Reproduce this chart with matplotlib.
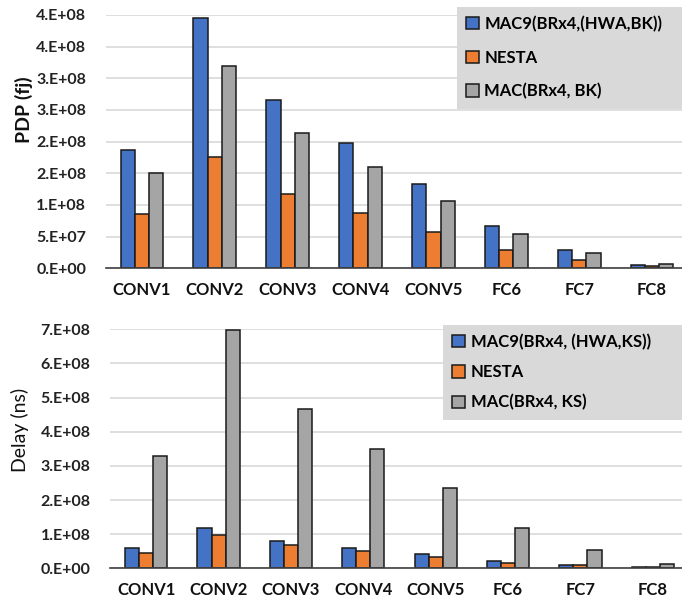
import matplotlib
matplotlib.use("Agg")
import matplotlib.pyplot as plt
import numpy as np

# layers on the x axis
layers = ["CONV1", "CONV2", "CONV3", "CONV4", "CONV5", "FC6", "FC7", "FC8"]

# PDP (fj)
pdp_mac9 = [1.87e8, 3.95e8, 2.65e8, 1.98e8, 1.33e8, 6.7e7, 2.9e7, 5.8e6]
pdp_nesta = [8.5e7, 1.76e8, 1.17e8, 8.8e7, 5.8e7, 2.9e7, 1.3e7, 4.2e6]
pdp_mac = [1.51e8, 3.2e8, 2.14e8, 1.6e8, 1.06e8, 5.4e7, 2.4e7, 6.3e6]
pdp_ticks = [0, 5e7, 1e8, 1.5e8, 2e8, 2.5e8, 3e8, 3.5e8, 4e8]
pdp_ticklabels = ["0.E+00", "5.E+07", "1.E+08", "2.E+08", "2.E+08",
                  "3.E+08", "3.E+08", "4.E+08", "4.E+08"]

# Delay (ns)
delay_mac9 = [5.9e7, 1.17e8, 8.0e7, 5.9e7, 4.2e7, 2.1e7, 8.7e6, 3e6]
delay_nesta = [4.6e7, 9.7e7, 6.7e7, 5.1e7, 3.4e7, 1.65e7, 9e6, 2.5e6]
delay_mac = [3.28e8, 6.97e8, 4.67e8, 3.48e8, 2.34e8, 1.17e8, 5.4e7, 1.26e7]
delay_ticks = [0, 1e8, 2e8, 3e8, 4e8, 5e8, 6e8, 7e8]
delay_ticklabels = ["0.E+00", "1.E+08", "2.E+08", "3.E+08",
                    "4.E+08", "5.E+08", "6.E+08", "7.E+08"]

top_labels = ["MAC9(BRx4,(HWA,BK))", "NESTA", "MAC(BRx4, BK)"]
bottom_labels = ["MAC9(BRx4, (HWA,KS))", "NESTA", "MAC(BRx4, KS)"]

colors = ["#4472C4", "#ED7D31", "#A5A5A5"]

plt.rcParams["font.family"] = ["Lato", "DejaVu Sans"]

W, H = 682, 607
fig = plt.figure(figsize=(W / 100, H / 100), dpi=100)


def px_axes(left, top, right, bottom):
    return fig.add_axes([left / W, 1 - bottom / H, (right - left) / W, (bottom - top) / H])


def draw_panel(ax, series, labels, ticks, ticklabels, ylabel, ylabel_weight,
               legend_box, spacing):
    x = np.arange(len(layers))
    bw = 0.195
    handles = []
    for i, (vals, c) in enumerate(zip(series, colors)):
        b = ax.bar(x + (i - 1) * bw, vals, width=bw, color=c,
                   edgecolor="#1a1a1a", linewidth=1.1, zorder=3)
        handles.append(b)
    ax.set_xlim(-0.5, len(layers) - 0.5)
    ax.set_ylim(0, ticks[-1])
    ax.set_yticks(ticks)
    ax.set_yticklabels(ticklabels, fontweight="bold", fontsize=11.5, color="#222222")
    ax.set_xticks(x)
    ax.set_xticklabels(layers, fontweight="bold", fontsize=12, color="#111111")
    ax.tick_params(axis="y", length=0, pad=14)
    ax.tick_params(axis="x", length=0, pad=10)
    ax.grid(axis="y", color="#d9d9d9", linewidth=1.2, zorder=0)
    for s in ["top", "right", "left"]:
        ax.spines[s].set_visible(False)
    ax.spines["bottom"].set_color("#404040")
    ax.spines["bottom"].set_linewidth(1.2)
    ax.spines["bottom"].set_zorder(4)
    ax.set_ylabel(ylabel, fontsize=14, fontweight=ylabel_weight, color="#111111")
    x0, y0 = legend_box
    leg = ax.legend(handles, labels, loc="upper left",
                    bbox_to_anchor=(x0 / W, 1 - y0 / H, (710 - x0) / W, 0.01),
                    bbox_transform=fig.transFigure, mode="expand",
                    borderaxespad=0, frameon=True, fancybox=False,
                    handlelength=0.75, handleheight=0.75, handletextpad=0.35,
                    labelspacing=spacing, borderpad=0.55,
                    prop={"family": ["Lato", "DejaVu Sans"], "weight": "bold", "size": 12})
    leg.get_frame().set_facecolor("#d9d9d9")
    leg.get_frame().set_edgecolor("none")
    leg.get_frame().set_alpha(1)
    leg.set_zorder(5)
    return ax


ax1 = px_axes(105.5, 15, 688.5, 268.3)
draw_panel(ax1, [pdp_mac9, pdp_nesta, pdp_mac], top_labels, pdp_ticks,
           pdp_ticklabels, "PDP (fj)", "bold", (457, 12.7), 1.05)
ax1.yaxis.set_label_coords(33 / W, 1 - 110 / H, transform=fig.transFigure)

ax2 = px_axes(110, 329.3, 689, 568.3)
draw_panel(ax2, [delay_mac9, delay_nesta, delay_mac], bottom_labels, delay_ticks,
           delay_ticklabels, "Delay (ns)", "normal", (443.3, 330.7), 0.85)
ax2.yaxis.set_label_coords(29 / W, 1 - 430 / H, transform=fig.transFigure)

fig.savefig("out.png", dpi=100)
